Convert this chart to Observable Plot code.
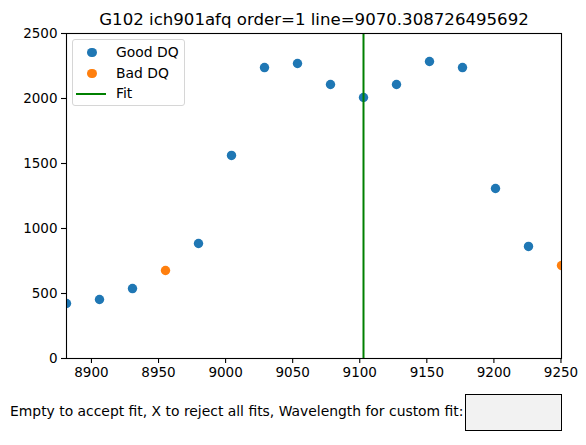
<!DOCTYPE html>
<html>
<head>
<meta charset="utf-8">
<script src="https://cdn.jsdelivr.net/npm/d3@7"></script>
<script src="https://cdn.jsdelivr.net/npm/@observablehq/plot@0.6"></script>
<style>
  html, body { margin: 0; padding: 0; background: #fff; }
  body { font-family: "DejaVu Sans", sans-serif; }
  #fig { position: relative; width: 586px; height: 445px; overflow: hidden; }
  #fig svg { display: block; }
  .legend { position: absolute; left: 72px; top: 39px; width: 113px; height: 67px;
            border: 1px solid #d6d6d6; border-radius: 3px; background: rgba(255,255,255,0.8);
            box-sizing: border-box; }
  .legend .row { position: absolute; left: 0; font-size: 13.9px; line-height: 1; color: #000; }
  .legend .sw { position: absolute; }
  .prompt { position: relative; height: 65px; }
  .prompt .label { position: absolute; left: 10px; top: 25px; font-size: 13.9px; line-height: 1; color: #000; white-space: nowrap; }
  .prompt .box { position: absolute; left: 465px; top: 14px; width: 97px; height: 37px;
                 box-sizing: border-box; border: 1px solid #000; background: #f2f2f2; }
</style>
</head>
<body>
<div id="fig"></div>
<script>
// Spectrum samples around the line
const wavelengths = [8881.4, 8906.0, 8930.6, 8955.2, 8979.8, 9004.4, 9029.0, 9053.6,
                     9078.2, 9102.8, 9127.4, 9152.0, 9176.6, 9201.2, 9225.8, 9250.4];
const fluxes = [423, 454, 538, 677, 885, 1562, 2238, 2269,
                2108, 2008, 2108, 2285, 2238, 1308, 862, 715];
const dqFlags = ["Good DQ", "Good DQ", "Good DQ", "Bad DQ", "Good DQ", "Good DQ", "Good DQ", "Good DQ",
                 "Good DQ", "Good DQ", "Good DQ", "Good DQ", "Good DQ", "Good DQ", "Good DQ", "Bad DQ"];
const fitWavelength = [9102.8];
const xTicks = [8900, 8950, 9000, 9050, 9100, 9150, 9200, 9250];
const yTicks = [0, 500, 1000, 1500, 2000, 2500];
const titleText = "G102 ich901afq order=1 line=9070.308726495692";
const promptText = "Empty to accept fit, X to reject all fits, Wavelength for custom fit:";
const legendLabels = ["Good DQ", "Bad DQ", "Fit"];

const colors = { "Good DQ": "#1f77b4", "Bad DQ": "#ff7f0e", "Fit": "green" };

const points = wavelengths.map((w, i) => ({ w, f: fluxes[i], dq: dqFlags[i] }));
const good = points.filter(d => d.dq === "Good DQ");
const bad = points.filter(d => d.dq === "Bad DQ");

const plain = d => String(d);

const chart = Plot.plot({
  width: 586,
  height: 380,
  marginTop: 33,
  marginLeft: 66,
  marginRight: 25,
  marginBottom: 22,
  style: { fontFamily: "DejaVu Sans, sans-serif", fontSize: "13.5px", color: "#000", background: "#fff" },
  x: { domain: [d3.min(wavelengths), d3.max(wavelengths)] },
  y: { domain: [0, 2500] },
  marks: [
    Plot.dot(good, { x: "w", y: "f", r: 4.7, fill: colors["Good DQ"], clip: true }),
    Plot.dot(bad, { x: "w", y: "f", r: 4.7, fill: colors["Bad DQ"], clip: true }),
    Plot.ruleX(fitWavelength, { stroke: colors["Fit"], strokeWidth: 2 }),
    Plot.frame({ stroke: "#000", strokeWidth: 1.1 }),
    Plot.axisX(xTicks, { tickSize: 5, tickPadding: 4, fontSize: 13.5, tickFormat: plain, label: null, stroke: "#000", strokeWidth: 1.1 }),
    Plot.axisY(yTicks, { tickSize: 5, tickPadding: 4, fontSize: 13.5, tickFormat: plain, label: null, stroke: "#000", strokeWidth: 1.1 }),
    Plot.text([titleText], { frameAnchor: "top", dy: -9, lineAnchor: "bottom", fontSize: 16.6, fill: "#000" })
  ]
});

const fig = document.getElementById("fig");
fig.appendChild(chart);

// Legend drawn over the upper-left corner of the axes
const legend = document.createElement("div");
legend.className = "legend";
const rowTops = [6, 27, 47];
legendLabels.forEach((lab, i) => {
  const sw = document.createElement("div");
  sw.className = "sw";
  if (lab === "Fit") {
    Object.assign(sw.style, { left: "3px", top: (rowTops[i] + 6) + "px", width: "30px", height: "2px", background: colors[lab] });
  } else {
    Object.assign(sw.style, { left: "14px", top: (rowTops[i] + 1.5) + "px", width: "9.6px", height: "9.6px", borderRadius: "50%", background: colors[lab] });
  }
  legend.appendChild(sw);
  const row = document.createElement("div");
  row.className = "row";
  row.style.left = "43px";
  row.style.top = rowTops[i] + "px";
  row.textContent = lab;
  legend.appendChild(row);
});
fig.appendChild(legend);

// Input prompt underneath the axes
const prompt = document.createElement("div");
prompt.className = "prompt";
const label = document.createElement("div");
label.className = "label";
label.textContent = promptText;
const box = document.createElement("div");
box.className = "box";
prompt.appendChild(label);
prompt.appendChild(box);
fig.appendChild(prompt);
</script>
</body>
</html>
